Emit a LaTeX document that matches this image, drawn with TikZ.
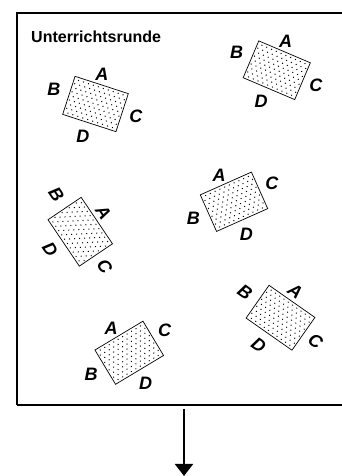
\documentclass[tikz,border=0pt]{standalone}
\usepackage{fontspec}
\setmainfont{Liberation Sans}
\usetikzlibrary{arrows.meta}
\tikzset{
  x=1pt, y=1pt,
  frameline/.style={line width=2pt},
  framebottom/.style={line width=1.4pt},
  cardbox/.style={draw, line width=0.7pt, minimum width=56pt, minimum height=40pt, inner sep=0pt, outer sep=0pt, transform shape},
  cardlabel/.style={font=\bfseries\itshape\fontsize{18}{18}\selectfont, inner sep=0pt},
  titletext/.style={font=\bfseries\fontsize{16}{16}\selectfont, inner sep=0pt, anchor=base west},
  cardarrow/.style={line width=1.8pt, -{Triangle[length=12pt,width=18pt]}}
}
\newcommand{\mycard}[5]{%
  \begin{scope}[shift={(#2,#3)}, rotate=#4]
    \begin{scope}
      \clip (-28,-20) rectangle (28,20);
      \foreach \i in {-6,...,6} {
        \foreach \j in {0,...,10} {
          \fill ({\i*5.2 + mod(\j,2)*2.6}, {(\j-5)*4.3}) circle (0.7pt);
        }
      }
    \end{scope}
    \node[cardbox] (#1) at (0,0) {};
    \node[cardlabel, rotate=#5] (#1A) at (-3,30) {A};
    \node[cardlabel, rotate=#5] (#1B) at (-44,1) {B};
    \node[cardlabel, rotate=#5] (#1C) at (42,1) {C};
    \node[cardlabel, rotate=#5] (#1D) at (-2,-35) {D};
  \end{scope}
}
\begin{document}
\begin{tikzpicture}
  \useasboundingbox (0,0) rectangle (341,476);
  % frame
  \coordinate (ftr) at (342,463);
  \coordinate (ftl) at (17,463);
  \coordinate (fbl) at (17,71);
  \coordinate (fbr) at (342,71);
  \draw[frameline] (ftr) -- (ftl) -- (fbl);
  \draw[framebottom] (fbl) -- (fbr);
  % title
  \node[titletext] (title) at (31,433) {Unterrichtsrunde};
  % cards
  \mycard{k1}{95.5}{372}{-18}{0}
  \mycard{k2}{276.75}{405.75}{-23}{0}
  \mycard{k3}{80.25}{244.25}{-56}{-56}
  \mycard{k4}{234}{274.25}{24}{0}
  \mycard{k5}{129.25}{123.25}{31}{0}
  \mycard{k6}{280.5}{158.25}{-35}{-35}
  % arrow
  \coordinate (arrowstart) at (184,67);
  \coordinate (arrowend) at (184,0);
  \draw[cardarrow] (arrowstart) -- (arrowend);
\end{tikzpicture}
\end{document}
